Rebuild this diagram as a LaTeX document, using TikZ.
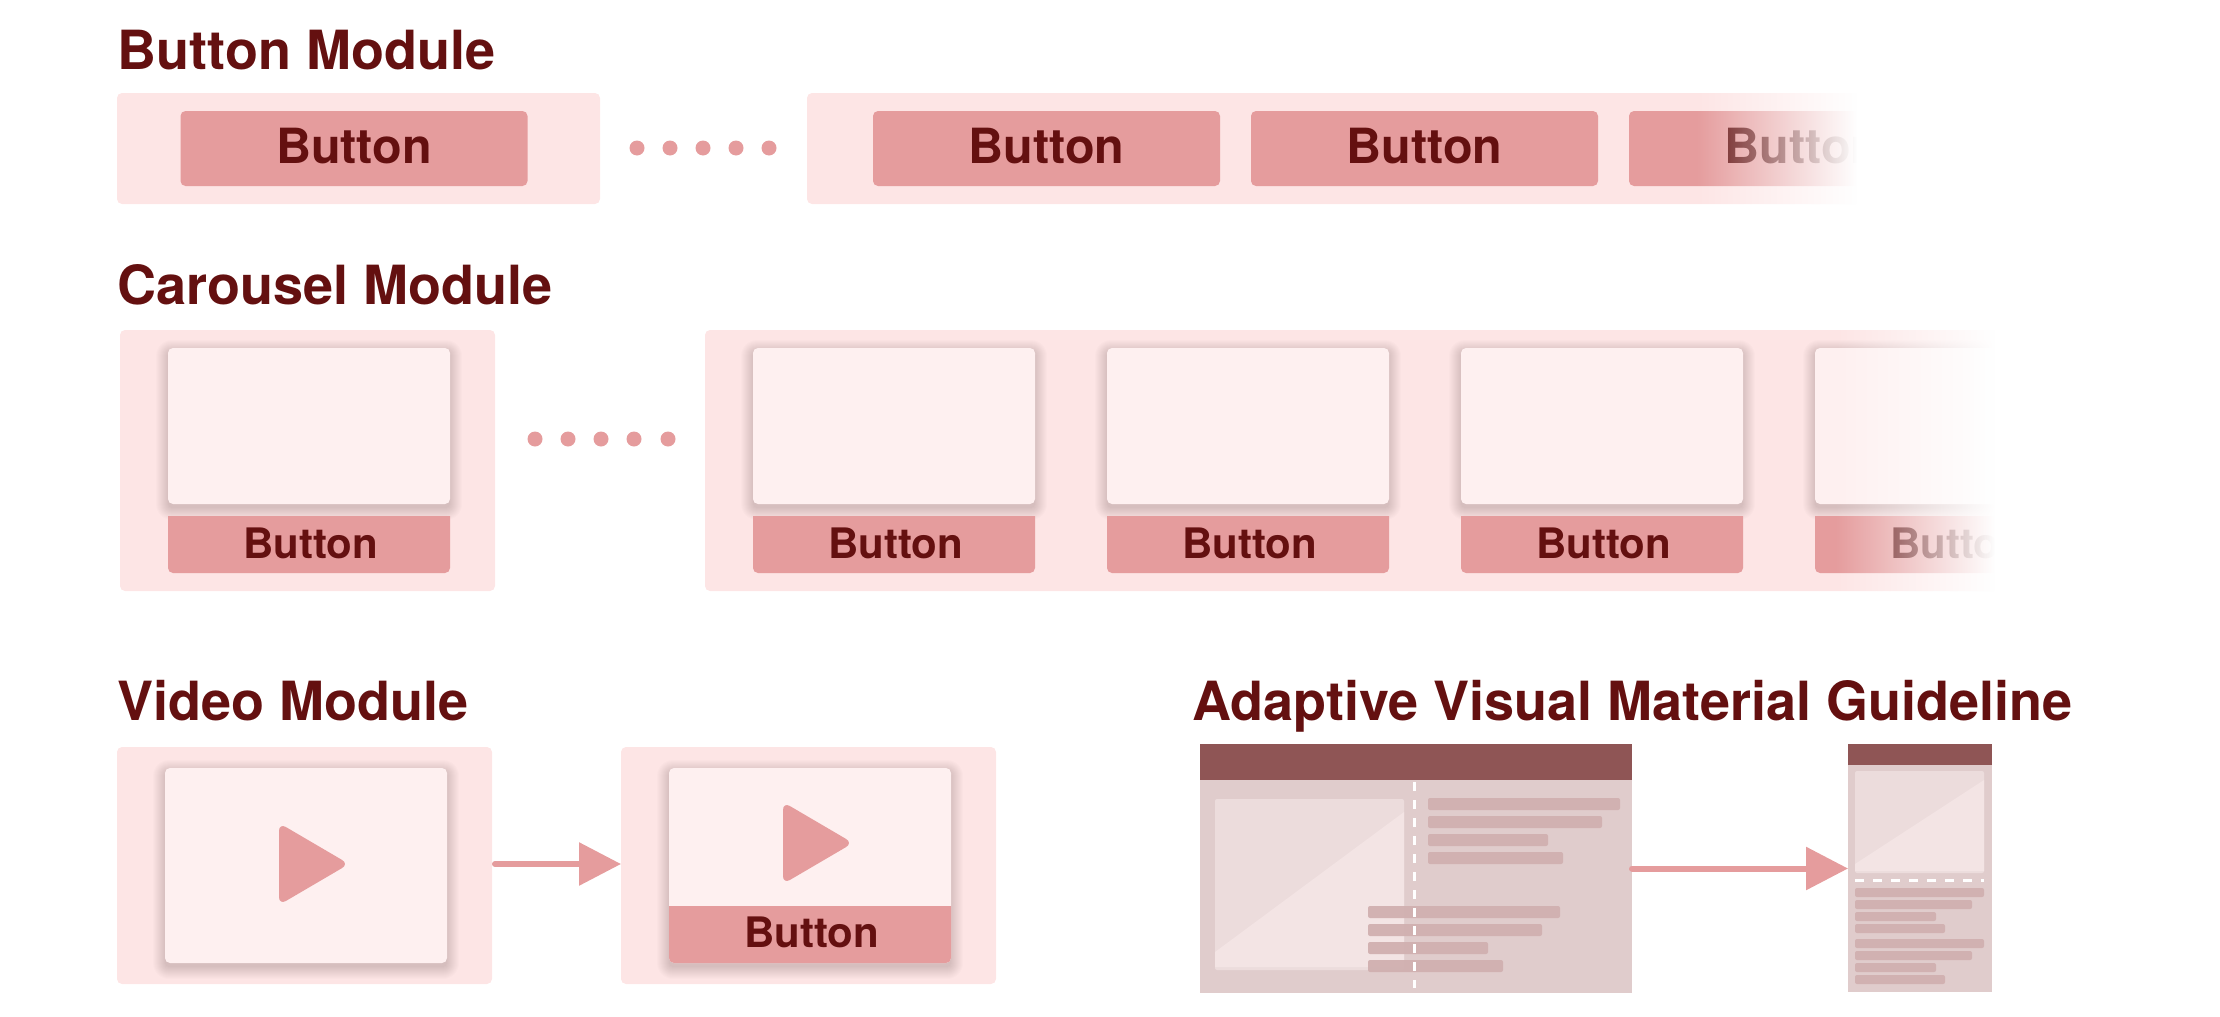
\documentclass[tikz,border=0pt]{standalone}
\usepackage{fontspec}
\setmainfont{TeX Gyre Heros}
\usetikzlibrary{arrows.meta,fadings}

\definecolor{panelpink}{HTML}{FDE5E5}
\definecolor{btnpink}{HTML}{E59C9D}
\definecolor{cardpink}{HTML}{FEF0F0}
\definecolor{darkred}{HTML}{641010}
\definecolor{pagehead}{HTML}{8F5555}
\definecolor{pagebody}{HTML}{E0CCCC}
\definecolor{picdark}{HTML}{ECDCDC}
\definecolor{piclight}{HTML}{F3E4E4}
\definecolor{barcol}{HTML}{D0AFAF}

\tikzfading[name=fadeout, left color=transparent!100, right color=transparent!0]

\tikzset{
  titletext/.style={anchor=base west,inner sep=0pt,text=darkred,font=\fontsize{54}{60}\selectfont\bfseries},
  panelbox/.style={fill=panelpink,rounded corners=5pt,inner sep=0pt,outer sep=0pt,minimum height=#1},
  topbtn/.style={fill=btnpink,rounded corners=5pt,inner sep=0pt,minimum width=347pt,minimum height=75pt,
    text depth=6pt,text=darkred,font=\fontsize{48.5}{52}\selectfont\bfseries},
  btnlabel/.style={anchor=base,inner sep=0pt,text=darkred,font=\fontsize{42}{46}\selectfont\bfseries},
  cardbox/.style={fill=cardpink,rounded corners=5pt,inner sep=0pt,minimum width=282pt,minimum height=#1},
  dotmark/.style={circle,fill=btnpink,inner sep=0pt,minimum size=15pt},
  pagebox/.style={fill=pagebody,inner sep=0pt,outer sep=0pt},
  flowarrow/.style={-{Triangle[length=42pt,width=42pt]},line width=6pt,draw=btnpink,fill=btnpink,line cap=round},
  whitedash/.style={draw=white,line width=3pt}
}

% soft shadow of a card: left, top, right, bottom
\newcommand{\softshadow}[4]{%
  \foreach \g in {0,...,12}{
    \fill[black,fill opacity=.01,rounded corners=\g pt+4pt]
      (#1-\g,#2-\g+4) rectangle (#3+\g,#4+\g+4);
  }}

\begin{document}
\begin{tikzpicture}[x=1pt,y=-1pt]
\useasboundingbox (0,0) rectangle (2220,1017);

% button module
\node[titletext] (titleBtn) at (117.5,69) {Button Module};
\node[panelbox=111pt,minimum width=483pt] (btnPanelA) at (358.5,148.5) {};
\node[panelbox=111pt,minimum width=1063pt] (btnPanelB) at (1338.5,148.5) {};
\node[topbtn] (btnOne) at (354,148.5) {Button};
\foreach \x [count=\i] in {637,670,703,736,769}{
  \node[dotmark] (btnDot\i) at (\x,148) {};
}
\foreach \x [count=\i] in {1046.5,1424.5,1802.5}{
  \node[topbtn] (btnRow\i) at (\x,148.5) {Button};
}
\fill[white,path fading=fadeout] (1696,88) rectangle (1857,210);
\fill[white] (1857,88) rectangle (1990,210);

% carousel module
\node[titletext] (titleCar) at (117.5,304) {Carousel Module};
\node[panelbox=261pt,minimum width=375pt] (carPanelA) at (307.5,460.5) {};
\node[panelbox=261pt,minimum width=1295pt] (carPanelB) at (1352.5,460.5) {};
\foreach \x [count=\i] in {535,568,601,634,668}{
  \node[dotmark] (carDot\i) at (\x,439) {};
}
\foreach \x [count=\i] in {168,753,1107,1461,1815}{
  \softshadow{\x}{348}{\x+282}{504}
  \node[cardbox=156pt] (carCard\i) at (\x+141,426) {};
  \fill[btnpink] (\x,516) -- (\x+282,516) [rounded corners=5pt] -- (\x+282,573) -- (\x,573) [sharp corners] -- cycle;
  \node[btnlabel] (carLabel\i) at (\x+142.5,558) {Button};
}
\fill[white,path fading=fadeout] (1835,325) rectangle (1995,600);
\fill[white] (1995,325) rectangle (2110,600);

% video module
\node[titletext] (titleVid) at (117.5,720.5) {Video Module};
\node[panelbox=237pt,minimum width=375pt] (vidPanelA) at (304.5,865.5) {};
\node[panelbox=237pt,minimum width=375pt] (vidPanelB) at (808.5,865.5) {};
\softshadow{165}{768}{447}{963}
\softshadow{669}{768}{951}{963}
\node[cardbox=195pt] (vidCardA) at (306,865.5) {};
\node[cardbox=195pt] (vidCardB) at (810,865.5) {};
\fill[btnpink] (669,906) -- (951,906) [rounded corners=5pt] -- (951,963) -- (669,963) [sharp corners] -- cycle;
\node[btnlabel] (vidLabel) at (811.5,947) {Button};
\foreach \x/\y in {279/864,783/843}{
  \fill[btnpink,rounded corners=8pt] (\x,\y-41) -- (\x+70,\y) -- (\x,\y+41) -- cycle;
}
\draw[flowarrow,shorten <=3pt] ([yshift=1.5pt]vidPanelA.east) -- ([yshift=1.5pt]vidPanelB.west);

% adaptive guideline
\node[titletext] (titleAda) at (1192,720.5) {Adaptive Visual Material Guideline};
\node[pagebox,minimum width=432pt,minimum height=249pt] (pageWide) at (1416,868.5) {};
\node[pagebox,minimum width=144pt,minimum height=247pt] (pageSlim) at (1920,868.5) {};
\fill[pagehead] (1200,744) rectangle (1632,780);
\fill[pagehead] (1848,744) rectangle (1992,765);

\fill[picdark,rounded corners=2pt] (1215,799) rectangle (1404,970);
\fill[piclight] (1404,812) -- (1404,967) -- (1215,967) -- (1215,952) -- cycle;
\fill[picdark,rounded corners=2pt] (1855,771) rectangle (1984,873);
\fill[piclight] (1984,780) -- (1984,871) -- (1855,871) -- (1855,864) -- cycle;

\begin{scope}[barcol,fill opacity=.93]
\foreach \y/\r in {798/1620,816/1602,834/1548,852/1563}{
  \fill[rounded corners=2pt] (1428,\y) rectangle (\r,\y+12);
}
\foreach \y/\r in {906/1560,924/1542,942/1488,960/1503}{
  \fill[rounded corners=2pt] (1368,\y) rectangle (\r,\y+12);
}
\foreach \y/\r in {888/1984,900/1972,912/1936,924/1945,939/1984,951/1972,963/1936,975/1945}{
  \fill[rounded corners=2pt] (1855,\y) rectangle (\r,\y+9);
}
\end{scope}

\draw[whitedash,dash pattern=on 8.5pt off 9.5pt] (1414,782) -- (1414,988);
\draw[whitedash,dash pattern=on 9pt off 9pt] (1855,880) -- (1984,880);

\draw[flowarrow] (pageWide.east) -- (pageSlim.west);
\end{tikzpicture}
\end{document}
